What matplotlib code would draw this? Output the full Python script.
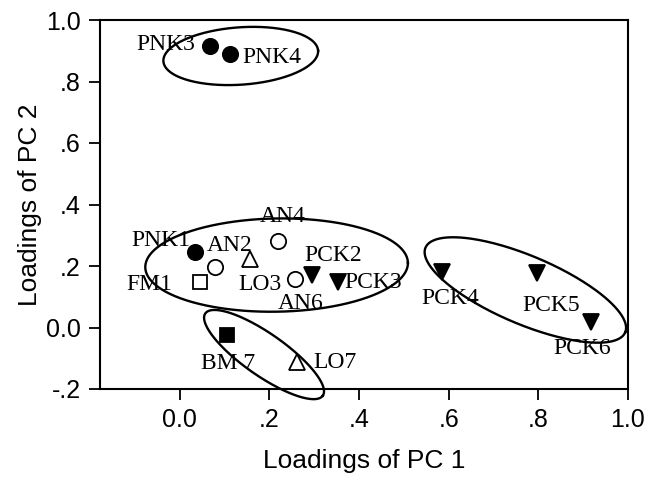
import numpy as np
import matplotlib
matplotlib.use("Agg")
import matplotlib.pyplot as plt

# ---- data ----
labels = ["PNK3", "PNK4", "PNK1", "AN2", "AN4", "AN6", "FM1", "BM 7",
          "LO3", "LO7", "PCK2", "PCK3", "PCK4", "PCK5", "PCK6"]
groups = ["PNK", "PNK", "PNK", "AN", "AN", "AN", "FM", "BM",
          "LO", "LO", "PCK", "PCK", "PCK", "PCK", "PCK"]
pc1 = [0.068, 0.111, 0.033, 0.079, 0.220, 0.257, 0.046, 0.105,
       0.157, 0.261, 0.296, 0.352, 0.584, 0.798, 0.918]
pc2 = [0.915, 0.889, 0.245, 0.198, 0.282, 0.157, 0.149, -0.024,
       0.222, -0.111, 0.171, 0.149, 0.180, 0.177, 0.018]

xticks = [0.0, 0.2, 0.4, 0.6, 0.8, 1.0]
xtick_labels = ["0.0", ".2", ".4", ".6", ".8", "1.0"]
yticks = [-0.2, 0.0, 0.2, 0.4, 0.6, 0.8, 1.0]
ytick_labels = ["-.2", "0.0", ".2", ".4", ".6", ".8", "1.0"]

# ---- styles ----
group_style = {
    "PNK": dict(marker="o", mfc="black", ms=11),
    "AN": dict(marker="o", mfc="white", ms=11),
    "FM": dict(marker="s", mfc="white", ms=10),
    "BM": dict(marker="s", mfc="black", ms=10),
    "LO": dict(marker="^", mfc="white", ms=11),
    "PCK": dict(marker="v", mfc="black", ms=11),
}
# label offsets (pixels) from markers
label_offsets = [(-44, 2), (42, -3), (-34, 12), (14, 21), (4, 24), (6, -24),
                 (-51, -3), (1, -29), (10, -25), (38, -1), (21, 19), (36, -1),
                 (9, -26), (14, -32), (-9, -27)]
# ellipses: center (data), semi-axes (in x-data units), angle (deg, screen)
ellipses = [((0.136, 0.883), 0.173, 0.064, 4),
            ((0.216, 0.203), 0.293, 0.104, 1),
            ((0.188, -0.088), 0.160, 0.047, -35),
            ((0.771, 0.122), 0.242, 0.076, -23)]

fig = plt.figure(figsize=(6.47, 4.80), dpi=100)
ax = fig.add_axes([100 / 647, (480 - 389) / 480, 528 / 647, 369 / 480])
ax.set_xlim(-0.178, 1.0)
ax.set_ylim(-0.2, 1.0)

for g, st in group_style.items():
    xs = [x for x, gg in zip(pc1, groups) if gg == g]
    ys = [y for y, gg in zip(pc2, groups) if gg == g]
    ax.plot(xs, ys, linestyle="none", marker=st["marker"], mfc=st["mfc"],
            mec="black", mew=1.3, ms=st["ms"], zorder=3)

for lab, x, y, off in zip(labels, pc1, pc2, label_offsets):
    ax.annotate(lab, (x, y), xytext=off, textcoords="offset pixels",
                ha="center", va="center", fontsize=17,
                family="Liberation Serif", zorder=4)

fig.canvas.draw()
sx = ax.transData.transform((1, 0))[0] - ax.transData.transform((0, 0))[0]
t = np.linspace(0, 2 * np.pi, 300)
for (cx, cy), a, b, ang in ellipses:
    c = ax.transData.transform((cx, cy))
    th = np.deg2rad(ang)
    ap, bp = a * sx, b * sx
    dx = ap * np.cos(t) * np.cos(th) - bp * np.sin(t) * np.sin(th)
    dy = ap * np.cos(t) * np.sin(th) + bp * np.sin(t) * np.cos(th)
    pts = ax.transData.inverted().transform(np.column_stack([c[0] + dx, c[1] + dy]))
    ax.plot(pts[:, 0], pts[:, 1], color="black", lw=1.7, clip_on=False, zorder=2)

ax.set_xticks(xticks)
ax.set_xticklabels(xtick_labels)
ax.set_yticks(yticks)
ax.set_yticklabels(ytick_labels)
ax.tick_params(direction="out", length=8, width=1.3, labelsize=18, pad=6)
for lab in ax.get_xticklabels() + ax.get_yticklabels():
    lab.set_family("Liberation Sans")
for sp in ax.spines.values():
    sp.set_linewidth(1.5)

ax.set_xlabel("Loadings of PC 1", fontsize=19, family="Liberation Sans", labelpad=12)
ax.set_ylabel("Loadings of PC 2", fontsize=19, family="Liberation Sans", labelpad=3)

fig.savefig("out.png", dpi=100)
